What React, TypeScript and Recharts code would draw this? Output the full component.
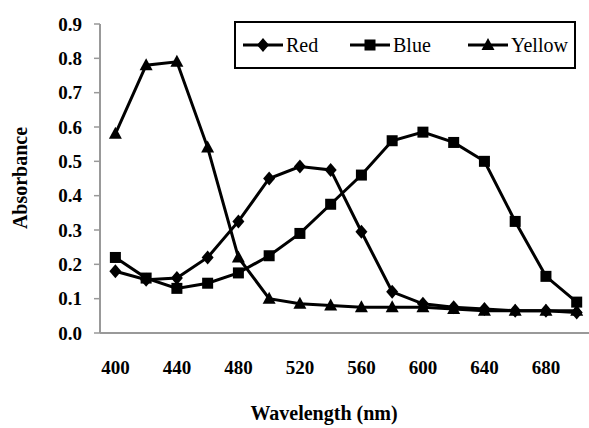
import React from 'react';
import { LineChart, Line, XAxis, YAxis, Legend } from 'recharts';

const wavelengths = [400, 420, 440, 460, 480, 500, 520, 540, 560, 580, 600, 620, 640, 660, 680, 700];
const red = [0.18, 0.155, 0.16, 0.22, 0.325, 0.45, 0.485, 0.475, 0.295, 0.12, 0.085, 0.075, 0.07, 0.065, 0.065, 0.06];
const blue = [0.22, 0.16, 0.13, 0.145, 0.175, 0.225, 0.29, 0.375, 0.46, 0.56, 0.585, 0.555, 0.5, 0.325, 0.165, 0.09];
const yellow = [0.58, 0.78, 0.79, 0.54, 0.22, 0.1, 0.085, 0.08, 0.075, 0.075, 0.075, 0.07, 0.065, 0.065, 0.065, 0.065];
const xTicks = [400, 440, 480, 520, 560, 600, 640, 680];
const yTicks = [0, 0.1, 0.2, 0.3, 0.4, 0.5, 0.6, 0.7, 0.8, 0.9];

const data = wavelengths.map((w, i) => ({ w, red: red[i], blue: blue[i], yellow: yellow[i] }));

const FONT = "'Liberation Serif', 'Times New Roman', serif";

const Diamond = ({ cx, cy }: { cx: number; cy: number }) => (
  <polygon points={`${cx},${cy - 7} ${cx + 6},${cy} ${cx},${cy + 7} ${cx - 6},${cy}`} fill="#000" />
);
const Square = ({ cx, cy }: { cx: number; cy: number }) => (
  <rect x={cx - 5.5} y={cy - 5.5} width={11} height={11} fill="#000" />
);
const Triangle = ({ cx, cy }: { cx: number; cy: number }) => (
  <polygon points={`${cx},${cy - 7} ${cx + 6.5},${cy + 5} ${cx - 6.5},${cy + 5}`} fill="#000" />
);

const makeDot = (Shape: any) => (props: any) => {
  const { cx, cy, index } = props;
  if (cx == null || cy == null) return <g key={index} />;
  return (
    <g key={index}>
      <Shape cx={cx} cy={cy} />
    </g>
  );
};

const LegendBox = () => {
  const items = [
    { name: 'Red', x: 9, Shape: Diamond },
    { name: 'Blue', x: 116, Shape: Square },
    { name: 'Yellow', x: 234, Shape: Triangle },
  ];
  return (
    <svg width={342} height={48} style={{ display: 'block' }}>
      <rect x={1} y={1} width={340} height={46} fill="#fff" stroke="#000" strokeWidth={2} />
      {items.map((it) => (
        <g key={it.name}>
          <line x1={it.x} y1={24} x2={it.x + 40} y2={24} stroke="#000" strokeWidth={3} />
          <it.Shape cx={it.x + 20} cy={24} />
          <text x={it.x + 43} y={24} dy="0.35em" style={{ fontFamily: FONT, fontSize: 20 }} fill="#000">
            {it.name}
          </text>
        </g>
      ))}
    </svg>
  );
};

const XTick = (props: any) => {
  const { x, y, payload } = props;
  return (
    <text x={x} y={y} dy="0.71em" textAnchor="middle" style={{ fontFamily: FONT, fontSize: 19, fontWeight: 'bold' }} fill="#000">
      {payload.value}
    </text>
  );
};

const YTick = (props: any) => {
  const { x, y, payload } = props;
  return (
    <text x={x} y={y} dy="0.355em" textAnchor="end" style={{ fontFamily: FONT, fontSize: 19, fontWeight: 'bold' }} fill="#000">
      {Number(payload.value).toFixed(1)}
    </text>
  );
};

export default function App() {
  return (
    <div style={{ position: 'absolute', left: 0, top: 0, width: 589, height: 428, background: '#fff', fontFamily: FONT }}>
      <LineChart width={589} height={428} data={data} margin={{ top: 24, right: 0, bottom: 0, left: 0 }}>
        <XAxis
          dataKey="w"
          type="number"
          domain={[390, 708]}
          allowDataOverflow
          ticks={xTicks}
          interval={0}
          tickLine={false}
          tickSize={0}
          tickMargin={28}
          height={95}
          axisLine={{ stroke: '#999', strokeWidth: 2 }}
          tick={<XTick />}
          label={{
            content: () => (
              <text x={324} y={413} textAnchor="middle" dy="0.35em" style={{ fontFamily: FONT, fontSize: 20, fontWeight: 'bold' }} fill="#000">
                Wavelength (nm)
              </text>
            ),
          }}
        />
        <YAxis
          type="number"
          domain={[0, 0.9]}
          ticks={yTicks}
          interval={0}
          width={100}
          tickSize={6}
          tickMargin={12}
          axisLine={{ stroke: '#999', strokeWidth: 2 }}
          tickLine={{ stroke: '#999', strokeWidth: 1.5 }}
          tick={<YTick />}
          label={{
            content: () => (
              <text x={20} y={178} transform="rotate(-90, 20, 178)" textAnchor="middle" dy="0.35em" style={{ fontFamily: FONT, fontSize: 20, fontWeight: 'bold' }} fill="#000">
                Absorbance
              </text>
            ),
          }}
        />
        <Legend
          layout="horizontal"
          verticalAlign="middle"
          align="center"
          wrapperStyle={{ position: 'absolute', left: 234, top: 21, width: 342, height: 48 }}
          content={() => <LegendBox />}
        />
        <Line dataKey="red" name="Red" stroke="#000" strokeWidth={3} dot={makeDot(Diamond)} isAnimationActive={false} />
        <Line dataKey="blue" name="Blue" stroke="#000" strokeWidth={3} dot={makeDot(Square)} isAnimationActive={false} />
        <Line dataKey="yellow" name="Yellow" stroke="#000" strokeWidth={3} dot={makeDot(Triangle)} isAnimationActive={false} />
      </LineChart>
    </div>
  );
}
